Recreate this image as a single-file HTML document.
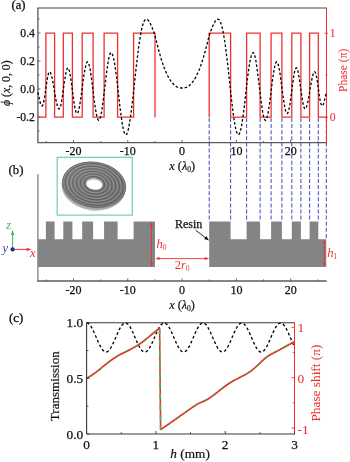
<!DOCTYPE html>
<html><head><meta charset="utf-8"><title>Figure</title>
<style>html,body{margin:0;padding:0;background:#fff}body{width:350px;height:462px;overflow:hidden}</style></head>
<body>
<svg width="350" height="462" viewBox="0 0 350 462" style="display:block;font-family:'Liberation Serif', serif">
<rect width="350" height="462" fill="#fff"/>
<line x1="209.2" y1="118" x2="209.2" y2="221.5" stroke="#4a50c0" stroke-width="1.05" stroke-dasharray="4 2.1"/>
<line x1="230.6" y1="118" x2="230.6" y2="221.5" stroke="#4a50c0" stroke-width="1.05" stroke-dasharray="4 2.1"/>
<line x1="246.6" y1="118" x2="246.6" y2="221.5" stroke="#4a50c0" stroke-width="1.05" stroke-dasharray="4 2.1"/>
<line x1="260.1" y1="118" x2="260.1" y2="221.5" stroke="#4a50c0" stroke-width="1.05" stroke-dasharray="4 2.1"/>
<line x1="271.1" y1="118" x2="271.1" y2="221.5" stroke="#4a50c0" stroke-width="1.05" stroke-dasharray="4 2.1"/>
<line x1="281.9" y1="118" x2="281.9" y2="221.5" stroke="#4a50c0" stroke-width="1.05" stroke-dasharray="4 2.1"/>
<line x1="291.8" y1="118" x2="291.8" y2="221.5" stroke="#4a50c0" stroke-width="1.05" stroke-dasharray="4 2.1"/>
<line x1="300.9" y1="118" x2="300.9" y2="221.5" stroke="#4a50c0" stroke-width="1.05" stroke-dasharray="4 2.1"/>
<line x1="309.6" y1="118" x2="309.6" y2="221.5" stroke="#4a50c0" stroke-width="1.05" stroke-dasharray="4 2.1"/>
<line x1="318.3" y1="118" x2="318.3" y2="221.5" stroke="#4a50c0" stroke-width="1.05" stroke-dasharray="4 2.1"/>
<line x1="326.3" y1="118" x2="326.3" y2="239" stroke="#4a50c0" stroke-width="1.05" stroke-dasharray="4 2.1"/>
<path d="M37.3 8.1 L326.3 8.1" fill="none" stroke="#858585" stroke-width="1.5"/>
<path d="M37.9 8.1 L37.9 142.6 L326.3 142.6" fill="none" stroke="#5a5a5a" stroke-width="1.3" stroke-linejoin="miter"/>
<path d="M326.5 7.5 L326.5 143.2" fill="none" stroke="#f03030" stroke-width="1.0"/>
<line x1="37.9" y1="19.0" x2="39.5" y2="19.0" stroke="#5a5a5a" stroke-width="0.9"/>
<line x1="37.9" y1="33.0" x2="40.5" y2="33.0" stroke="#5a5a5a" stroke-width="0.9"/>
<line x1="37.9" y1="47.0" x2="39.5" y2="47.0" stroke="#5a5a5a" stroke-width="0.9"/>
<line x1="37.9" y1="61.0" x2="40.5" y2="61.0" stroke="#5a5a5a" stroke-width="0.9"/>
<line x1="37.9" y1="75.0" x2="39.5" y2="75.0" stroke="#5a5a5a" stroke-width="0.9"/>
<line x1="37.9" y1="89.0" x2="40.5" y2="89.0" stroke="#5a5a5a" stroke-width="0.9"/>
<line x1="37.9" y1="103.0" x2="39.5" y2="103.0" stroke="#5a5a5a" stroke-width="0.9"/>
<line x1="37.9" y1="117.0" x2="40.5" y2="117.0" stroke="#5a5a5a" stroke-width="0.9"/>
<line x1="37.9" y1="131.0" x2="39.5" y2="131.0" stroke="#5a5a5a" stroke-width="0.9"/>
<line x1="46.3" y1="142.6" x2="46.3" y2="141.0" stroke="#5a5a5a" stroke-width="0.9"/>
<line x1="73.5" y1="142.6" x2="73.5" y2="140.0" stroke="#5a5a5a" stroke-width="0.9"/>
<line x1="100.7" y1="142.6" x2="100.7" y2="141.0" stroke="#5a5a5a" stroke-width="0.9"/>
<line x1="127.8" y1="142.6" x2="127.8" y2="140.0" stroke="#5a5a5a" stroke-width="0.9"/>
<line x1="154.9" y1="142.6" x2="154.9" y2="141.0" stroke="#5a5a5a" stroke-width="0.9"/>
<line x1="182.1" y1="142.6" x2="182.1" y2="140.0" stroke="#5a5a5a" stroke-width="0.9"/>
<line x1="209.2" y1="142.6" x2="209.2" y2="141.0" stroke="#5a5a5a" stroke-width="0.9"/>
<line x1="236.4" y1="142.6" x2="236.4" y2="140.0" stroke="#5a5a5a" stroke-width="0.9"/>
<line x1="263.5" y1="142.6" x2="263.5" y2="141.0" stroke="#5a5a5a" stroke-width="0.9"/>
<line x1="290.7" y1="142.6" x2="290.7" y2="140.0" stroke="#5a5a5a" stroke-width="0.9"/>
<line x1="317.9" y1="142.6" x2="317.9" y2="141.0" stroke="#5a5a5a" stroke-width="0.9"/>
<line x1="324.62" y1="33.2" x2="328.1" y2="33.2" stroke="#f03030" stroke-width="0.9"/>
<line x1="325.32" y1="75.2" x2="327.35" y2="75.2" stroke="#f03030" stroke-width="0.9"/>
<line x1="324.62" y1="117.2" x2="328.1" y2="117.2" stroke="#f03030" stroke-width="0.9"/>
<path d="M155.0 117.2 L155.0 117.2 L155.0 33.2 L133.6 33.2 L133.6 117.2 L117.6 117.2 L117.6 33.2 L104.1 33.2 L104.1 117.2 L93.1 117.2 L93.1 33.2 L82.2 33.2 L82.2 117.2 L72.4 117.2 L72.4 33.2 L63.3 33.2 L63.3 117.2 L54.6 117.2 L54.6 33.2 L45.9 33.2 L45.9 117.2 L37.9 117.2" fill="none" stroke="#f03030" stroke-width="1.3" stroke-linejoin="miter"/>
<path d="M209.2 117.2 L209.2 117.2 L209.2 33.2 L230.6 33.2 L230.6 117.2 L246.6 117.2 L246.6 33.2 L260.1 33.2 L260.1 117.2 L271.1 117.2 L271.1 33.2 L281.9 33.2 L281.9 117.2 L291.8 117.2 L291.8 33.2 L300.9 33.2 L300.9 117.2 L309.6 117.2 L309.6 33.2 L318.3 33.2 L318.3 117.2 L326.3 117.2" fill="none" stroke="#f03030" stroke-width="1.3" stroke-linejoin="miter"/>
<path d="M37.9 92.3 L38.6 95.5 L39.3 98.7 L40.0 101.6 L40.7 104.0 L41.4 105.5 L42.1 106.0 L43.0 104.7 L43.9 101.0 L44.9 95.4 L45.8 88.8 L46.7 82.3 L47.7 76.7 L48.6 73.0 L49.5 71.7 L50.4 72.5 L51.2 74.7 L52.1 78.1 L53.0 82.6 L53.9 87.7 L54.7 93.0 L55.6 98.1 L56.5 102.6 L57.4 106.0 L58.2 108.2 L59.1 109.0 L60.0 108.0 L60.9 105.1 L61.7 100.5 L62.6 94.8 L63.5 88.4 L64.4 82.0 L65.3 76.3 L66.1 71.7 L67.0 68.8 L67.9 67.8 L68.8 68.9 L69.7 72.2 L70.6 77.2 L71.5 83.6 L72.4 90.7 L73.4 97.8 L74.3 104.2 L75.2 109.2 L76.1 112.5 L77.0 113.6 L77.9 112.7 L78.8 110.1 L79.6 106.0 L80.5 100.6 L81.4 94.4 L82.2 87.7 L83.1 81.0 L84.0 74.8 L84.9 69.4 L85.8 65.3 L86.6 62.7 L87.5 61.8 L88.4 62.7 L89.2 65.2 L90.1 69.2 L90.9 74.5 L91.8 80.7 L92.7 87.6 L93.5 94.6 L94.4 101.5 L95.3 107.7 L96.1 113.0 L97.0 117.0 L97.8 119.5 L98.7 120.4 L99.6 119.6 L100.5 117.0 L101.4 113.0 L102.2 107.6 L103.1 101.2 L104.0 94.0 L104.9 86.5 L105.8 79.0 L106.7 71.8 L107.6 65.4 L108.4 60.0 L109.3 56.0 L110.2 53.4 L111.1 52.6 L112.0 53.3 L112.8 55.4 L113.7 58.8 L114.6 63.3 L115.4 68.9 L116.3 75.4 L117.2 82.5 L118.0 89.9 L118.9 97.5 L119.7 104.9 L120.6 112.0 L121.5 118.5 L122.3 124.1 L123.2 128.6 L124.1 132.0 L124.9 134.1 L125.8 134.8 L126.7 134.2 L127.5 132.2 L128.4 129.1 L129.2 124.9 L130.1 119.7 L131.0 113.6 L131.8 106.8 L132.7 99.5 L133.6 91.8 L134.4 83.9 L135.3 75.9 L136.1 68.1 L137.0 60.5 L137.9 53.3 L138.7 46.6 L139.6 40.5 L140.5 35.2 L141.3 30.6 L142.2 26.8 L143.1 23.8 L143.9 21.6 L144.8 20.1 L145.6 19.4 L146.5 19.2 L146.8 19.4 L147.2 19.5 L147.6 19.7 L148.0 20.1 L148.4 20.5 L148.8 21.0 L149.3 21.7 L149.7 22.5 L150.2 23.4 L150.7 24.3 L151.1 25.3 L151.6 26.4 L152.1 27.6 L152.6 28.9 L153.2 30.2 L153.7 31.7 L154.2 33.2 L154.7 34.8 L155.2 36.6 L155.8 38.6 L156.3 40.7 L156.8 42.8 L157.4 45.0 L157.9 47.0 L158.4 49.1 L159.0 51.2 L159.6 53.2 L160.1 55.2 L160.7 57.2 L161.2 59.0 L161.8 61.0 L162.5 63.0 L163.2 64.9 L163.8 66.7 L164.4 68.4 L165.1 70.0 L165.9 71.9 L166.8 73.8 L167.6 75.5 L168.4 77.2 L169.3 78.7 L170.1 80.0 L171.1 81.4 L172.1 82.7 L173.1 83.8 L174.1 84.8 L175.1 85.7 L176.1 86.4 L177.1 87.0 L178.1 87.4 L179.1 87.7 L180.1 87.9 L181.1 88.0 L182.1 88.0 L183.1 88.0 L184.1 87.9 L185.1 87.7 L186.1 87.4 L187.1 87.0 L188.1 86.4 L189.1 85.7 L190.1 84.8 L191.1 83.8 L192.1 82.7 L193.1 81.4 L194.1 80.0 L194.9 78.7 L195.8 77.2 L196.6 75.5 L197.4 73.8 L198.3 71.9 L199.1 70.0 L199.8 68.4 L200.4 66.7 L201.0 64.9 L201.7 63.0 L202.3 61.0 L203.0 59.0 L203.5 57.2 L204.1 55.2 L204.6 53.2 L205.2 51.2 L205.8 49.1 L206.3 47.0 L206.8 45.0 L207.4 42.8 L207.9 40.7 L208.4 38.6 L209.0 36.6 L209.5 34.8 L210.0 33.2 L210.5 31.7 L211.0 30.2 L211.6 28.9 L212.1 27.6 L212.6 26.4 L213.1 25.3 L213.5 24.3 L214.0 23.4 L214.5 22.5 L214.9 21.7 L215.4 21.0 L215.8 20.5 L216.2 20.1 L216.6 19.7 L217.0 19.5 L217.4 19.4 L217.7 19.2 L218.6 19.4 L219.4 20.1 L220.3 21.6 L221.1 23.8 L222.0 26.8 L222.9 30.6 L223.7 35.2 L224.6 40.5 L225.5 46.6 L226.3 53.3 L227.2 60.5 L228.1 68.1 L228.9 75.9 L229.8 83.9 L230.6 91.8 L231.5 99.5 L232.4 106.8 L233.2 113.6 L234.1 119.7 L234.9 124.9 L235.8 129.1 L236.7 132.2 L237.5 134.2 L238.4 134.8 L239.3 134.1 L240.1 132.0 L241.0 128.6 L241.9 124.1 L242.7 118.5 L243.6 112.0 L244.5 104.9 L245.3 97.5 L246.2 89.9 L247.0 82.5 L247.9 75.4 L248.8 68.9 L249.6 63.3 L250.5 58.8 L251.4 55.4 L252.2 53.3 L253.1 52.6 L254.0 53.4 L254.9 56.0 L255.8 60.0 L256.6 65.4 L257.5 71.8 L258.4 79.0 L259.3 86.5 L260.2 94.0 L261.1 101.2 L262.0 107.6 L262.8 113.0 L263.7 117.0 L264.6 119.6 L265.5 120.4 L266.4 119.5 L267.2 117.0 L268.1 113.0 L268.9 107.7 L269.8 101.5 L270.7 94.6 L271.5 87.6 L272.4 80.7 L273.3 74.5 L274.1 69.2 L275.0 65.2 L275.8 62.7 L276.7 61.8 L277.6 62.7 L278.4 65.3 L279.3 69.4 L280.2 74.8 L281.1 81.0 L281.9 87.7 L282.8 94.4 L283.7 100.6 L284.6 106.0 L285.4 110.1 L286.3 112.7 L287.2 113.6 L288.1 112.5 L289.0 109.2 L289.9 104.2 L290.8 97.8 L291.8 90.7 L292.7 83.6 L293.6 77.2 L294.5 72.2 L295.4 68.9 L296.3 67.8 L297.2 68.8 L298.1 71.7 L298.9 76.3 L299.8 82.0 L300.7 88.4 L301.6 94.8 L302.5 100.5 L303.3 105.1 L304.2 108.0 L305.1 109.0 L306.0 108.2 L306.8 106.0 L307.7 102.6 L308.6 98.1 L309.5 93.0 L310.3 87.7 L311.2 82.6 L312.1 78.1 L313.0 74.7 L313.8 72.5 L314.7 71.7 L315.6 73.0 L316.5 76.7 L317.5 82.3 L318.4 88.8 L319.3 95.4 L320.2 101.0 L321.2 104.7 L322.1 106.0 L322.8 105.5 L323.5 104.0 L324.2 101.6 L324.9 98.7 L325.6 95.5 L326.3 92.3" fill="none" stroke="#000" stroke-width="1.3" stroke-dasharray="2.6 2.0"/>
<text x="11.6" y="9.0" font-size="12.5" text-anchor="start" fill="#000" stroke="#000" stroke-width="0.25" stroke-width="0.45">(a)</text>
<text x="34.9" y="36.7" font-size="11.7" text-anchor="end" fill="#111" stroke="#111" stroke-width="0.25" >0.4</text>
<text x="34.9" y="64.7" font-size="11.7" text-anchor="end" fill="#111" stroke="#111" stroke-width="0.25" >0.2</text>
<text x="34.9" y="92.7" font-size="11.7" text-anchor="end" fill="#111" stroke="#111" stroke-width="0.25" >0.0</text>
<text x="34.9" y="120.7" font-size="11.7" text-anchor="end" fill="#111" stroke="#111" stroke-width="0.25" >-0.2</text>
<text x="73.5" y="155.4" font-size="12" text-anchor="middle" fill="#111" stroke="#111" stroke-width="0.25" >-20</text>
<text x="127.8" y="155.4" font-size="12" text-anchor="middle" fill="#111" stroke="#111" stroke-width="0.25" >-10</text>
<text x="182.1" y="155.4" font-size="12" text-anchor="middle" fill="#111" stroke="#111" stroke-width="0.25" >0</text>
<text x="236.39999999999998" y="155.4" font-size="12" text-anchor="middle" fill="#111" stroke="#111" stroke-width="0.25" >10</text>
<text x="290.7" y="155.4" font-size="12" text-anchor="middle" fill="#111" stroke="#111" stroke-width="0.25" >20</text>
<text x="329.8" y="37.0" font-size="11.7" text-anchor="start" fill="#f03030" stroke="#f03030" stroke-width="0.08" >1</text>
<text x="329.8" y="121.0" font-size="11.7" text-anchor="start" fill="#f03030" stroke="#f03030" stroke-width="0.08" >0</text>
<text transform="translate(346.5 70.3) rotate(-90)" font-size="11.5" text-anchor="middle" fill="#f03030" stroke="#f03030" stroke-width="0.05">Phase (π)</text>
<text transform="translate(9.7 83.2) rotate(-90)" font-size="11.8" text-anchor="middle" fill="#111" stroke="#111" stroke-width="0.2"><tspan font-style="italic">ϕ</tspan> (<tspan font-style="italic">x</tspan>, 0, 0)</text>
<text x="182.2" y="169.9" font-size="12.2" text-anchor="middle" fill="#111" stroke="#111" stroke-width="0.2"><tspan font-style="italic">x</tspan> (<tspan font-style="italic">λ</tspan><tspan font-size="7.6" dy="2">0</tspan><tspan dy="-2">)</tspan></text>
<path d="M155.0 267.1 L155.0 221.4 L133.6 221.4 L133.6 239.2 L117.6 239.2 L117.6 221.4 L104.1 221.4 L104.1 239.2 L93.1 239.2 L93.1 221.4 L82.2 221.4 L82.2 239.2 L72.4 239.2 L72.4 221.4 L63.3 221.4 L63.3 239.2 L54.6 239.2 L54.6 221.4 L45.9 221.4 L45.9 239.2 L37.9 239.2 L37.9 267.1 Z" fill="#848484"/>
<path d="M209.2 267.1 L209.2 221.4 L230.6 221.4 L230.6 239.2 L246.6 239.2 L246.6 221.4 L260.1 221.4 L260.1 239.2 L271.1 239.2 L271.1 221.4 L281.9 221.4 L281.9 239.2 L291.8 239.2 L291.8 221.4 L300.9 221.4 L300.9 239.2 L309.6 239.2 L309.6 221.4 L318.3 221.4 L318.3 239.2 L326.3 239.2 L326.3 267.1 Z" fill="#848484"/>
<path d="M37.9 174.2 L37.9 281.0" fill="none" stroke="#8a8a8a" stroke-width="1.4"/>
<path d="M37.199999999999996 281.0 L326.7 281.0" fill="none" stroke="#5c5c5c" stroke-width="1.3"/>
<line x1="46.3" y1="281.0" x2="46.3" y2="279.4" stroke="#5a5a5a" stroke-width="0.9"/>
<line x1="73.5" y1="281.0" x2="73.5" y2="278.4" stroke="#5a5a5a" stroke-width="0.9"/>
<line x1="100.7" y1="281.0" x2="100.7" y2="279.4" stroke="#5a5a5a" stroke-width="0.9"/>
<line x1="127.8" y1="281.0" x2="127.8" y2="278.4" stroke="#5a5a5a" stroke-width="0.9"/>
<line x1="154.9" y1="281.0" x2="154.9" y2="279.4" stroke="#5a5a5a" stroke-width="0.9"/>
<line x1="182.1" y1="281.0" x2="182.1" y2="278.4" stroke="#5a5a5a" stroke-width="0.9"/>
<line x1="209.2" y1="281.0" x2="209.2" y2="279.4" stroke="#5a5a5a" stroke-width="0.9"/>
<line x1="236.4" y1="281.0" x2="236.4" y2="278.4" stroke="#5a5a5a" stroke-width="0.9"/>
<line x1="263.5" y1="281.0" x2="263.5" y2="279.4" stroke="#5a5a5a" stroke-width="0.9"/>
<line x1="290.7" y1="281.0" x2="290.7" y2="278.4" stroke="#5a5a5a" stroke-width="0.9"/>
<line x1="317.9" y1="281.0" x2="317.9" y2="279.4" stroke="#5a5a5a" stroke-width="0.9"/>
<text x="73.5" y="293.6" font-size="12" text-anchor="middle" fill="#111" stroke="#111" stroke-width="0.25" >-20</text>
<text x="127.8" y="293.6" font-size="12" text-anchor="middle" fill="#111" stroke="#111" stroke-width="0.25" >-10</text>
<text x="182.1" y="293.6" font-size="12" text-anchor="middle" fill="#111" stroke="#111" stroke-width="0.25" >0</text>
<text x="236.39999999999998" y="293.6" font-size="12" text-anchor="middle" fill="#111" stroke="#111" stroke-width="0.25" >10</text>
<text x="290.7" y="293.6" font-size="12" text-anchor="middle" fill="#111" stroke="#111" stroke-width="0.25" >20</text>
<text x="182.0" y="309.2" font-size="12.2" text-anchor="middle" fill="#111" stroke="#111" stroke-width="0.2"><tspan font-style="italic">x</tspan> (<tspan font-style="italic">λ</tspan><tspan font-size="7.6" dy="2">0</tspan><tspan dy="-2">)</tspan></text>
<text x="8.6" y="174.3" font-size="12.8" text-anchor="start" fill="#111" stroke="#111" stroke-width="0.25" >(b)</text>
<rect x="57.2" y="157.3" width="75.1" height="57.8" fill="#fff" stroke="#6fd39a" stroke-width="1.2"/>
<defs><linearGradient id="dg" x1="0" y1="0" x2="1" y2="1"><stop offset="0" stop-color="#8c8c8c"/><stop offset="0.55" stop-color="#767676"/><stop offset="1" stop-color="#6a6a6a"/></linearGradient></defs>
<g transform="translate(94.15 184.65) rotate(9)">
<ellipse cx="-0.5" cy="3.2" rx="31.849999999999998" ry="22.7" fill="#b8b8b8"/>
<ellipse cx="-0.2" cy="1.6" rx="32.05" ry="22.7" fill="#a0a0a0"/>
<ellipse cx="0" cy="0" rx="32.05" ry="22.7" fill="url(#dg)"/>
<ellipse cx="0.00" cy="-0.04" rx="31.00" ry="21.96" fill="none" stroke="#989898" stroke-width="0.8"/>
<ellipse cx="0.01" cy="-0.10" rx="29.13" ry="20.63" fill="none" stroke="#5e5e5e" stroke-width="0.8"/>
<ellipse cx="0.02" cy="-0.17" rx="27.26" ry="19.31" fill="none" stroke="#989898" stroke-width="0.8"/>
<ellipse cx="0.03" cy="-0.24" rx="25.39" ry="17.99" fill="none" stroke="#5e5e5e" stroke-width="0.8"/>
<ellipse cx="0.04" cy="-0.30" rx="23.52" ry="16.66" fill="none" stroke="#989898" stroke-width="0.8"/>
<ellipse cx="0.05" cy="-0.37" rx="21.66" ry="15.34" fill="none" stroke="#5e5e5e" stroke-width="0.8"/>
<ellipse cx="0.05" cy="-0.44" rx="19.79" ry="14.01" fill="none" stroke="#989898" stroke-width="0.8"/>
<ellipse cx="0.06" cy="-0.50" rx="17.92" ry="12.69" fill="none" stroke="#5e5e5e" stroke-width="0.8"/>
<ellipse cx="0.07" cy="-0.57" rx="16.05" ry="11.37" fill="none" stroke="#989898" stroke-width="0.8"/>
<ellipse cx="0.08" cy="-0.64" rx="14.18" ry="10.04" fill="none" stroke="#5e5e5e" stroke-width="0.8"/>
<ellipse cx="0.09" cy="-0.70" rx="12.31" ry="8.72" fill="none" stroke="#989898" stroke-width="0.8"/>
<ellipse cx="0.10" cy="-0.77" rx="10.44" ry="7.39" fill="none" stroke="#5e5e5e" stroke-width="0.8"/>
<ellipse cx="0" cy="0" rx="31.749999999999996" ry="22.4" fill="none" stroke="#5c5c5c" stroke-width="0.7"/>
<ellipse cx="0.1" cy="-0.8" rx="8.5" ry="5.7" fill="#c4c4c4"/>
<ellipse cx="0.2" cy="0.0" rx="7.9" ry="4.8" fill="#fff"/>
</g>
<line x1="12.6" y1="249.4" x2="12.6" y2="234" stroke="#3fb55a" stroke-width="1"/>
<path d="M12.6 229.8 L10.9 235 L14.3 235 Z" fill="#3fb55a"/>
<line x1="12.6" y1="249.4" x2="27.5" y2="249.4" stroke="#f03030" stroke-width="1"/>
<path d="M31.6 249.4 L26.6 247.7 L26.6 251.1 Z" fill="#f03030"/>
<circle cx="12.6" cy="249.4" r="2.1" fill="#1f2a8c"/>
<text x="8.6" y="228.6" font-size="12.5" font-style="italic" text-anchor="middle" fill="#3fb55a">z</text>
<text x="5.4" y="252.2" font-size="12.5" font-style="italic" text-anchor="middle" fill="#3a48b8">y</text>
<text x="32.9" y="257.2" font-size="12.5" font-style="italic" text-anchor="middle" fill="#f03030">x</text>
<line x1="151.4" y1="223.6" x2="151.4" y2="265.0" stroke="#f03030" stroke-width="0.9"/>
<path d="M151.4 221.6 L149.9 225.79999999999998 L152.9 225.79999999999998 Z M151.4 267.0 L149.9 262.8 L152.9 262.8 Z" fill="#f03030"/>
<line x1="324.3" y1="241.4" x2="324.3" y2="265.0" stroke="#f03030" stroke-width="0.9"/>
<path d="M324.3 239.4 L322.8 243.6 L325.8 243.6 Z M324.3 267.0 L322.8 262.8 L325.8 262.8 Z" fill="#f03030"/>
<line x1="157" y1="258.6" x2="207.4" y2="258.6" stroke="#f03030" stroke-width="0.9"/>
<path d="M155.1 258.6 L159.6 257.1 L159.6 260.1 Z M209.2 258.6 L204.7 257.1 L204.7 260.1 Z" fill="#f03030"/>
<text x="156.4" y="248" font-size="12.6" text-anchor="start" fill="#f03030"><tspan font-style="italic">h</tspan><tspan font-size="7.6" dy="2">0</tspan></text>
<text x="327.2" y="257" font-size="12.6" text-anchor="start" fill="#f03030"><tspan font-style="italic">h</tspan><tspan font-size="7.6" dy="2">1</tspan></text>
<text x="182.2" y="269" font-size="12.4" text-anchor="middle" fill="#f03030">2<tspan font-style="italic">r</tspan><tspan font-size="7.6" dy="2">0</tspan></text>
<text x="188.6" y="228.2" font-size="12" text-anchor="middle" fill="#111" stroke="#111" stroke-width="0.25" >Resin</text>
<line x1="195.6" y1="230.2" x2="206.6" y2="238.6" stroke="#111" stroke-width="0.9"/>
<path d="M209 240.4 L204.2 238.9 L206.3 236.1 Z" fill="#111"/>
<path d="M86.6 323.0 L87.1 323.1 L87.6 323.2 L88.2 323.5 L88.7 323.8 L89.2 324.3 L89.7 324.8 L90.2 325.4 L90.8 326.2 L91.3 327.0 L91.8 327.8 L92.3 328.8 L92.8 329.8 L93.4 330.8 L93.9 332.0 L94.4 333.1 L94.9 334.3 L95.4 335.5 L96.0 336.7 L96.5 337.9 L97.0 339.1 L97.5 340.3 L98.0 341.5 L98.6 342.7 L99.1 343.8 L99.6 344.9 L100.1 345.9 L100.6 346.9 L101.2 347.8 L101.7 348.6 L102.2 349.3 L102.7 350.0 L103.2 350.6 L103.8 351.0 L104.3 351.4 L104.8 351.7 L105.3 351.9 L105.8 352.0 L106.4 352.0 L106.9 351.9 L107.4 351.6 L107.9 351.3 L108.4 350.9 L108.9 350.4 L109.5 349.8 L110.0 349.1 L110.5 348.3 L111.0 347.5 L111.5 346.5 L112.1 345.5 L112.6 344.5 L113.1 343.4 L113.6 342.3 L114.1 341.1 L114.7 339.9 L115.2 338.7 L115.7 337.5 L116.2 336.3 L116.7 335.1 L117.3 333.9 L117.8 332.7 L118.3 331.6 L118.8 330.5 L119.3 329.4 L119.9 328.4 L120.4 327.5 L120.9 326.7 L121.4 325.9 L121.9 325.2 L122.5 324.6 L123.0 324.1 L123.5 323.7 L124.0 323.4 L124.5 323.1 L125.1 323.0 L125.6 323.0 L126.1 323.1 L126.6 323.3 L127.1 323.6 L127.7 324.0 L128.2 324.4 L128.7 325.0 L129.2 325.7 L129.7 326.4 L130.3 327.3 L130.8 328.2 L131.3 329.1 L131.8 330.2 L132.3 331.2 L132.9 332.3 L133.4 333.5 L133.9 334.7 L134.4 335.9 L134.9 337.1 L135.5 338.3 L136.0 339.6 L136.5 340.8 L137.0 341.9 L137.5 343.1 L138.1 344.2 L138.6 345.2 L139.1 346.2 L139.6 347.2 L140.1 348.1 L140.7 348.9 L141.2 349.6 L141.7 350.2 L142.2 350.7 L142.7 351.2 L143.3 351.5 L143.8 351.8 L144.3 352.0 L144.8 352.0 L145.3 351.9 L145.9 351.8 L146.4 351.5 L146.9 351.2 L147.4 350.7 L147.9 350.2 L148.5 349.5 L149.0 348.8 L149.5 348.0 L150.0 347.1 L150.5 346.2 L151.0 345.2 L151.6 344.1 L152.1 343.0 L152.6 341.9 L153.1 340.7 L153.6 339.5 L154.2 338.3 L154.7 337.1 L155.2 335.8 L155.7 334.6 L156.2 333.5 L156.8 332.3 L157.3 331.2 L157.8 330.1 L158.3 329.1 L158.8 328.1 L159.4 327.2 L159.9 326.4 L160.4 325.7 L160.9 325.0 L161.4 324.4 L162.0 323.9 L162.5 323.6 L163.0 323.3 L163.5 323.1 L164.0 323.0 L164.6 323.0 L165.1 323.1 L165.6 323.4 L166.1 323.7 L166.6 324.1 L167.2 324.6 L167.7 325.2 L168.2 325.9 L168.7 326.7 L169.2 327.6 L169.8 328.5 L170.3 329.5 L170.8 330.5 L171.3 331.6 L171.8 332.7 L172.4 333.9 L172.9 335.1 L173.4 336.3 L173.9 337.5 L174.4 338.8 L175.0 340.0 L175.5 341.2 L176.0 342.3 L176.5 343.5 L177.0 344.6 L177.6 345.6 L178.1 346.6 L178.6 347.5 L179.1 348.3 L179.6 349.1 L180.2 349.8 L180.7 350.4 L181.2 350.9 L181.7 351.3 L182.2 351.6 L182.8 351.9 L183.3 352.0 L183.8 352.0 L184.3 351.9 L184.8 351.7 L185.4 351.4 L185.9 351.0 L186.4 350.5 L186.9 350.0 L187.4 349.3 L188.0 348.5 L188.5 347.7 L189.0 346.8 L189.5 345.9 L190.0 344.8 L190.6 343.7 L191.1 342.6 L191.6 341.5 L192.1 340.3 L192.6 339.1 L193.1 337.9 L193.7 336.6 L194.2 335.4 L194.7 334.2 L195.2 333.0 L195.7 331.9 L196.3 330.8 L196.8 329.7 L197.3 328.7 L197.8 327.8 L198.3 326.9 L198.9 326.1 L199.4 325.4 L199.9 324.8 L200.4 324.2 L200.9 323.8 L201.5 323.4 L202.0 323.2 L202.5 323.0 L203.0 323.0 L203.5 323.1 L204.1 323.2 L204.6 323.5 L205.1 323.8 L205.6 324.3 L206.1 324.8 L206.7 325.5 L207.2 326.2 L207.7 327.0 L208.2 327.9 L208.7 328.8 L209.3 329.8 L209.8 330.9 L210.3 332.0 L210.8 333.2 L211.3 334.3 L211.9 335.5 L212.4 336.7 L212.9 338.0 L213.4 339.2 L213.9 340.4 L214.5 341.6 L215.0 342.7 L215.5 343.8 L216.0 344.9 L216.5 345.9 L217.1 346.9 L217.6 347.8 L218.1 348.6 L218.6 349.4 L219.1 350.0 L219.7 350.6 L220.2 351.1 L220.7 351.5 L221.2 351.7 L221.7 351.9 L222.3 352.0 L222.8 352.0 L223.3 351.8 L223.8 351.6 L224.3 351.3 L224.9 350.9 L225.4 350.4 L225.9 349.7 L226.4 349.0 L226.9 348.3 L227.5 347.4 L228.0 346.5 L228.5 345.5 L229.0 344.5 L229.5 343.4 L230.1 342.2 L230.6 341.1 L231.1 339.9 L231.6 338.6 L232.1 337.4 L232.6 336.2 L233.2 335.0 L233.7 333.8 L234.2 332.6 L234.7 331.5 L235.2 330.4 L235.8 329.4 L236.3 328.4 L236.8 327.5 L237.3 326.6 L237.8 325.9 L238.4 325.2 L238.9 324.6 L239.4 324.1 L239.9 323.7 L240.4 323.3 L241.0 323.1 L241.5 323.0 L242.0 323.0 L242.5 323.1 L243.0 323.3 L243.6 323.6 L244.1 324.0 L244.6 324.5 L245.1 325.1 L245.6 325.7 L246.2 326.5 L246.7 327.3 L247.2 328.2 L247.7 329.2 L248.2 330.2 L248.8 331.3 L249.3 332.4 L249.8 333.6 L250.3 334.7 L250.8 336.0 L251.4 337.2 L251.9 338.4 L252.4 339.6 L252.9 340.8 L253.4 342.0 L254.0 343.1 L254.5 344.2 L255.0 345.3 L255.5 346.3 L256.0 347.2 L256.6 348.1 L257.1 348.9 L257.6 349.6 L258.1 350.2 L258.6 350.8 L259.2 351.2 L259.7 351.6 L260.2 351.8 L260.7 352.0 L261.2 352.0 L261.8 351.9 L262.3 351.8 L262.8 351.5 L263.3 351.2 L263.8 350.7 L264.4 350.1 L264.9 349.5 L265.4 348.8 L265.9 348.0 L266.4 347.1 L267.0 346.1 L267.5 345.1 L268.0 344.1 L268.5 343.0 L269.0 341.8 L269.6 340.6 L270.1 339.4 L270.6 338.2 L271.1 337.0 L271.6 335.8 L272.2 334.6 L272.7 333.4 L273.2 332.2 L273.7 331.1 L274.2 330.1 L274.7 329.0 L275.3 328.1 L275.8 327.2 L276.3 326.4 L276.8 325.6 L277.3 325.0 L277.9 324.4 L278.4 323.9 L278.9 323.5 L279.4 323.3 L279.9 323.1 L280.5 323.0 L281.0 323.0 L281.5 323.2 L282.0 323.4 L282.5 323.7 L283.1 324.1 L283.6 324.7 L284.1 325.3 L284.6 326.0 L285.1 326.8 L285.7 327.6 L286.2 328.5 L286.7 329.5 L287.2 330.6 L287.7 331.7 L288.3 332.8 L288.8 334.0 L289.3 335.2 L289.8 336.4 L290.3 337.6 L290.9 338.8 L291.4 340.0 L291.9 341.2 L292.4 342.4 L292.9 343.5 L293.5 344.6 L294.0 345.6 L294.5 346.6" fill="none" stroke="#000" stroke-width="1.35" stroke-dasharray="2.8 2.4"/>
<path d="M86.7 378.3 C88.2 377.4 92.0 375.1 95.4 372.6 C98.8 370.1 103.1 366.3 106.9 363.4 C110.7 360.5 114.5 357.7 118.3 355.4 C122.1 353.1 125.9 351.8 129.7 349.7 C133.5 347.6 137.3 345.6 141.1 342.9 C144.9 340.2 149.5 336.1 152.6 333.7 C155.7 331.2 158.4 329.1 159.6 328.2 L160.6 429.6 C163.1 427.9 169.7 423.3 175.7 419.1 C181.7 414.9 190.9 408.1 196.4 404.6 C201.9 401.2 203.4 402.0 208.9 398.4 C214.4 394.8 222.7 387.5 229.6 383.0 C236.5 378.5 244.1 375.8 250.3 371.4 C256.5 367.0 262.0 360.5 266.8 356.9 C271.6 353.3 274.7 352.4 279.3 349.9 C283.9 347.3 291.7 343.0 294.2 341.6" fill="none" stroke="#f03030" stroke-width="1.6" stroke-linejoin="miter" stroke-miterlimit="2"/>
<path d="M86.7 378.3 C88.2 377.4 92.0 375.1 95.4 372.6 C98.8 370.1 103.1 366.3 106.9 363.4 C110.7 360.5 114.5 357.7 118.3 355.4 C122.1 353.1 125.9 351.8 129.7 349.7 C133.5 347.6 137.3 345.6 141.1 342.9 C144.9 340.2 149.5 336.1 152.6 333.7 C155.7 331.2 158.4 329.1 159.6 328.2 L160.6 429.6 C163.1 427.9 169.7 423.3 175.7 419.1 C181.7 414.9 190.9 408.1 196.4 404.6 C201.9 401.2 203.4 402.0 208.9 398.4 C214.4 394.8 222.7 387.5 229.6 383.0 C236.5 378.5 244.1 375.8 250.3 371.4 C256.5 367.0 262.0 360.5 266.8 356.9 C271.6 353.3 274.7 352.4 279.3 349.9 C283.9 347.3 291.7 343.0 294.2 341.6" fill="none" stroke="#35c24a" stroke-width="1.6" stroke-dasharray="5.2 5.6" stroke-dashoffset="-3" stroke-linejoin="miter" stroke-miterlimit="2"/>
<path d="M86.7 378.3 C88.2 377.4 92.0 375.1 95.4 372.6 C98.8 370.1 103.1 366.3 106.9 363.4 C110.7 360.5 114.5 357.7 118.3 355.4 C122.1 353.1 125.9 351.8 129.7 349.7 C133.5 347.6 137.3 345.6 141.1 342.9 C144.9 340.2 149.5 336.1 152.6 333.7 C155.7 331.2 158.4 329.1 159.6 328.2" fill="none" stroke="#f03030" stroke-width="1.0" transform="translate(0.25 0.3)"/>
<path d="M160.6 429.6 C163.1 427.9 169.7 423.3 175.7 419.1 C181.7 414.9 190.9 408.1 196.4 404.6 C201.9 401.2 203.4 402.0 208.9 398.4 C214.4 394.8 222.7 387.5 229.6 383.0 C236.5 378.5 244.1 375.8 250.3 371.4 C256.5 367.0 262.0 360.5 266.8 356.9 C271.6 353.3 274.7 352.4 279.3 349.9 C283.9 347.3 291.7 343.0 294.2 341.6" fill="none" stroke="#f03030" stroke-width="1.0" transform="translate(0.25 0.3)"/>
<path d="M86.6 434.0 L86.6 322.7 L294.5 322.7" fill="none" stroke="#3a3a3a" stroke-width="1.1"/>
<path d="M86.6 434.0 L294.5 434.0" fill="none" stroke="#3a3a3a" stroke-width="1.1"/>
<path d="M294.5 322.2 L294.5 434.5" fill="none" stroke="#f03030" stroke-width="1.0"/>
<line x1="86.6" y1="322.7" x2="89.6" y2="322.7" stroke="#3a3a3a" stroke-width="0.9"/>
<line x1="86.6" y1="350.5" x2="88.39999999999999" y2="350.5" stroke="#3a3a3a" stroke-width="0.9"/>
<line x1="86.6" y1="378.4" x2="89.6" y2="378.4" stroke="#3a3a3a" stroke-width="0.9"/>
<line x1="86.6" y1="406.2" x2="88.39999999999999" y2="406.2" stroke="#3a3a3a" stroke-width="0.9"/>
<line x1="86.6" y1="434.0" x2="89.6" y2="434.0" stroke="#3a3a3a" stroke-width="0.9"/>
<line x1="86.6" y1="434.0" x2="86.6" y2="431.0" stroke="#3a3a3a" stroke-width="0.9"/>
<line x1="121.2" y1="434.0" x2="121.2" y2="432.2" stroke="#3a3a3a" stroke-width="0.9"/>
<line x1="155.9" y1="434.0" x2="155.9" y2="431.0" stroke="#3a3a3a" stroke-width="0.9"/>
<line x1="190.5" y1="434.0" x2="190.5" y2="432.2" stroke="#3a3a3a" stroke-width="0.9"/>
<line x1="225.2" y1="434.0" x2="225.2" y2="431.0" stroke="#3a3a3a" stroke-width="0.9"/>
<line x1="259.9" y1="434.0" x2="259.9" y2="432.2" stroke="#3a3a3a" stroke-width="0.9"/>
<line x1="294.5" y1="434.0" x2="294.5" y2="431.0" stroke="#3a3a3a" stroke-width="0.9"/>
<line x1="294.5" y1="327.4" x2="291.5" y2="327.4" stroke="#f03030" stroke-width="0.9"/>
<line x1="294.5" y1="352.6" x2="292.7" y2="352.6" stroke="#f03030" stroke-width="0.9"/>
<line x1="294.5" y1="377.7" x2="291.5" y2="377.7" stroke="#f03030" stroke-width="0.9"/>
<line x1="294.5" y1="402.8" x2="292.7" y2="402.8" stroke="#f03030" stroke-width="0.9"/>
<line x1="294.5" y1="428.0" x2="291.5" y2="428.0" stroke="#f03030" stroke-width="0.9"/>
<text x="83.2" y="327.2" font-size="13.3" text-anchor="end" fill="#111" stroke="#111" stroke-width="0.25" >1.0</text>
<text x="83.2" y="382.85" font-size="13.3" text-anchor="end" fill="#111" stroke="#111" stroke-width="0.25" >0.5</text>
<text x="83.2" y="438.5" font-size="13.3" text-anchor="end" fill="#111" stroke="#111" stroke-width="0.25" >0.0</text>
<text x="86.6" y="448.6" font-size="13.3" text-anchor="middle" fill="#111" stroke="#111" stroke-width="0.25" >0</text>
<text x="155.89999999999998" y="448.6" font-size="13.3" text-anchor="middle" fill="#111" stroke="#111" stroke-width="0.25" >1</text>
<text x="225.2" y="448.6" font-size="13.3" text-anchor="middle" fill="#111" stroke="#111" stroke-width="0.25" >2</text>
<text x="294.5" y="448.6" font-size="13.3" text-anchor="middle" fill="#111" stroke="#111" stroke-width="0.25" >3</text>
<text x="297.6" y="332.0" font-size="13.3" text-anchor="start" fill="#f03030" stroke="#f03030" stroke-width="0.08" >1</text>
<text x="297.6" y="382.7" font-size="13.3" text-anchor="start" fill="#f03030" stroke="#f03030" stroke-width="0.08" >0</text>
<text x="297.6" y="434.2" font-size="13.3" text-anchor="start" fill="#f03030" stroke="#f03030" stroke-width="0.08" >-1</text>
<text transform="translate(59.2 386.2) rotate(-90)" font-size="13.1" text-anchor="middle" fill="#111" stroke="#111" stroke-width="0.2">Transmission</text>
<text transform="translate(320.4 383.1) rotate(-90)" font-size="13.3" text-anchor="middle" fill="#f03030" stroke="#f03030" stroke-width="0.05">Phase shift (π)</text>
<text x="190.1" y="458" font-size="13.3" text-anchor="middle" fill="#111" stroke="#111" stroke-width="0.2"><tspan font-style="italic">h</tspan> (mm)</text>
<text x="9.0" y="322.2" font-size="12.8" text-anchor="start" fill="#000" stroke="#000" stroke-width="0.25" stroke-width="0.45">(c)</text>
</svg>
</body></html>
